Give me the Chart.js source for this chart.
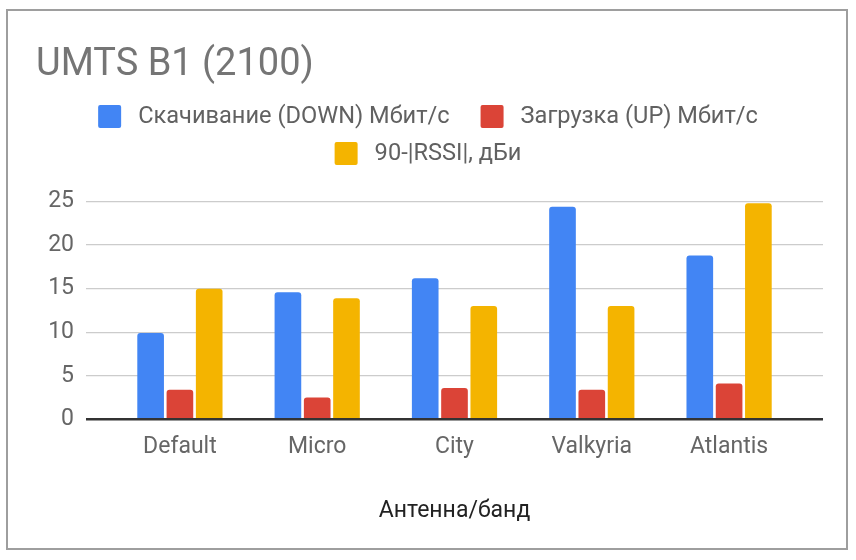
<!DOCTYPE html>
<html><head><meta charset="utf-8">
<script src="https://cdn.jsdelivr.net/npm/chart.js@4.4.0/dist/chart.umd.min.js"></script>
<style>html,body{margin:0;padding:0;background:#fff;}#wrap{position:relative;width:856px;height:560px;}</style>
</head><body><div id="wrap"><canvas id="c" width="856" height="560"></canvas></div>
<script>
const categories = ['Default', 'Micro', 'City', 'Valkyria', 'Atlantis'];
const seriesNames = ['Скачивание (DOWN) Мбит/с', 'Загрузка (UP) Мбит/с', '90-|RSSI|, дБи'];
const downValues = [9.9, 14.6, 16.2, 24.4, 18.8];
const upValues = [3.4, 2.5, 3.6, 3.4, 4.1];
const rssiValues = [15.0, 13.9, 13.0, 13.0, 24.8];
const yTickValues = [0, 5, 10, 15, 20, 25];
const seriesColors = ['#4285F4', '#DB4437', '#F4B400'];
const titleText = 'UMTS B1 (2100)';
const xAxisTitle = 'Антенна/банд';

const FONT = 'Roboto';

const framePlugin = {
  id: 'frame',
  beforeDraw(chart) {
    const ctx = chart.ctx;
    ctx.save();
    ctx.fillStyle = '#fff';
    ctx.fillRect(0, 0, chart.width, chart.height);
    ctx.strokeStyle = '#9e9e9e';
    ctx.lineWidth = 2;
    ctx.strokeRect(7, 10, 840, 539);
    ctx.restore();
  }
};

const legendPlugin = {
  id: 'customLegend',
  afterDraw(chart) {
    const ctx = chart.ctx;
    ctx.save();
    ctx.font = '23.6px ' + FONT;
    ctx.textBaseline = 'middle';
    const box = 23, gapBT = 17, gapItems = 31, maxW = 720, rowH = 37, firstY = 116.5;
    const items = chart.data.datasets.map(d => ({
      text: d.label, color: d.backgroundColor,
      w: box + gapBT + ctx.measureText(d.label).width
    }));
    const rows = [];
    let cur = [], curW = 0;
    items.forEach(it => {
      const add = (cur.length ? gapItems : 0) + it.w;
      if (cur.length && curW + add > maxW) {
        rows.push({ items: cur, w: curW });
        cur = [it]; curW = it.w;
      } else { cur.push(it); curW += add; }
    });
    if (cur.length) rows.push({ items: cur, w: curW });
    const cx = chart.width / 2;
    rows.forEach((row, r) => {
      let x = cx - row.w / 2;
      const y = firstY + r * rowH;
      row.items.forEach(it => {
        ctx.fillStyle = it.color;
        ctx.beginPath();
        ctx.roundRect(x, y - box / 2, box, box, 2);
        ctx.fill();
        ctx.fillStyle = '#616161';
        ctx.textAlign = 'left';
        ctx.fillText(it.text, x + box + gapBT, y + 1);
        x += it.w + gapItems;
      });
    });
    ctx.restore();
  }
};

const dataSeries = [downValues, upValues, rssiValues];

new Chart(document.getElementById('c'), {
  type: 'bar',
  data: {
    datasets: dataSeries.map((vals, k) => ({
      label: seriesNames[k],
      data: vals.map((v, i) => ({ x: i, y: v })),
      backgroundColor: seriesColors[k],
      borderWidth: 0,
      borderRadius: 3,
      borderSkipped: 'bottom',
      categoryPercentage: 0.64,
      barPercentage: 0.91
    }))
  },
  options: {
    responsive: false,
    animation: false,
    devicePixelRatio: 1,
    layout: { padding: { left: 36, right: 33, top: 0, bottom: 28.5 } },
    plugins: {
      legend: { display: false },
      tooltip: { enabled: false },
      title: {
        display: true, text: titleText, align: 'start', color: '#757575',
        font: { family: FONT, size: 38, weight: 'normal' },
        padding: { top: 43, bottom: 113 }
      }
    },
    scales: {
      x: {
        type: 'linear',
        offset: false,
        min: -0.684, max: 4.684,
        grid: { display: false, drawTicks: false, offset: false },
        border: { display: false },
        afterBuildTicks: s => { s.ticks = categories.map((c, i) => ({ value: i })); },
        ticks: {
          callback: v => categories[v] !== undefined ? categories[v] : '',
          color: '#666', font: { family: FONT, size: 23 }, padding: 14,
          autoSkip: false, maxRotation: 0, includeBounds: false
        },
        title: {
          display: true, text: xAxisTitle, color: '#222',
          font: { family: FONT, size: 23 }, padding: { top: 23, bottom: 6 }
        }
      },
      y: {
        min: 0, max: 25,
        afterBuildTicks: s => { s.ticks = yTickValues.map(v => ({ value: v })); },
        afterFit: s => { s.width = 50; },
        grid: {
          drawTicks: false,
          color: c => c.tick && c.tick.value === 0 ? '#333' : '#ccc',
          lineWidth: c => c.tick && c.tick.value === 0 ? 2.5 : 1.3
        },
        border: { display: false },
        ticks: { color: '#666', font: { family: FONT, size: 23 }, padding: 12 }
      }
    }
  },
  plugins: [framePlugin, legendPlugin]
});
</script>
</body></html>
